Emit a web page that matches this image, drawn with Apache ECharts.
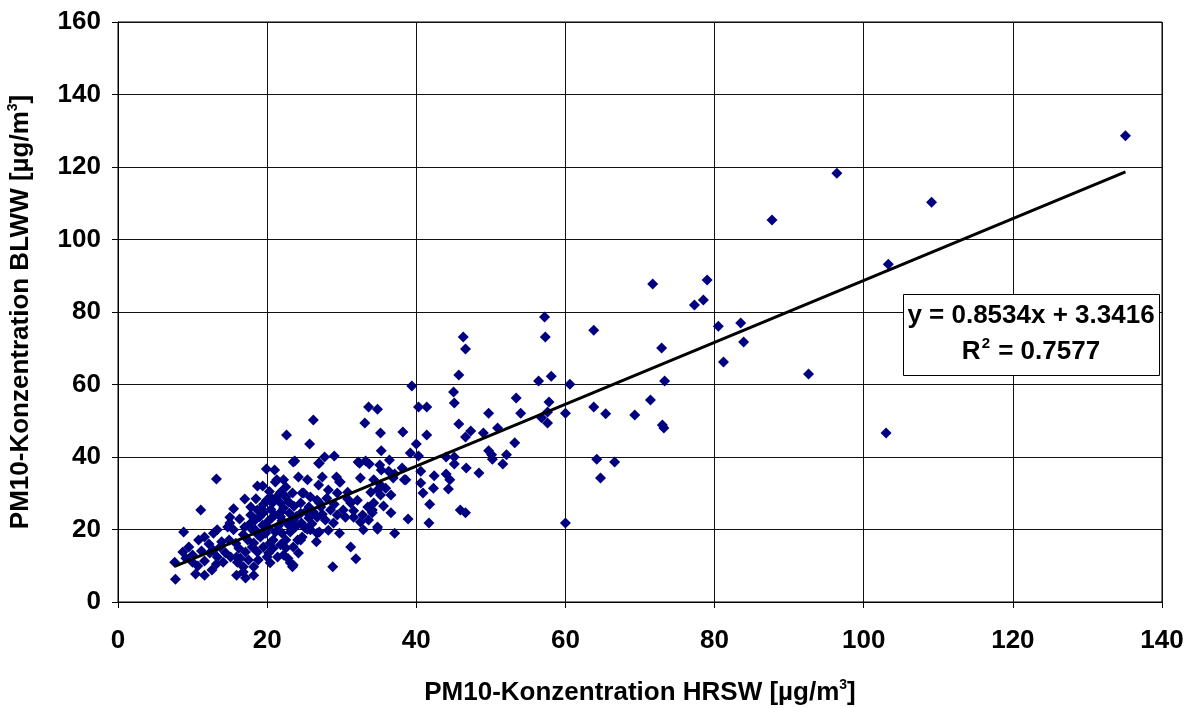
<!DOCTYPE html>
<html lang="de">
    <head>
        <meta charset="UTF-8" />
        <title>PM10 HRSW / BLWW</title>
        <script src="https://cdn.jsdelivr.net/npm/echarts@6/dist/echarts.min.js"></script>
        <style>
            html, body { margin: 0; padding: 0; background: #fff; }
            #chart { width: 1195px; height: 708px; }
        </style>
    </head>

    <body>
        <div id="chart"></div>

        <script>
            // Werte: [HRSW, BLWW] in µg/m3
            var highPoints = [
                [135.1, 128.6], [96.4, 118.3], [109.1, 110.3], [87.7, 105.4], [103.3, 93.2],
                [71.7, 87.7], [79.0, 88.8], [77.3, 81.9], [78.5, 83.3], [80.5, 76.1],
                [83.5, 77.0], [83.9, 71.7], [81.2, 66.2], [92.6, 62.9], [103.0, 46.6],
                [57.2, 78.6], [57.3, 73.1], [46.3, 73.1], [46.6, 69.8], [63.8, 75.0],
                [72.9, 70.1], [73.3, 61.0], [56.4, 61.0], [58.1, 62.3], [60.6, 60.1],
                [53.4, 56.3], [57.8, 55.2], [54.0, 52.1], [57.6, 52.4], [56.8, 50.8],
                [57.6, 49.4], [60.0, 52.1], [63.8, 53.8], [65.4, 51.9], [69.3, 51.6],
                [71.4, 55.7], [73.0, 48.8], [73.2, 48.0], [53.2, 43.9], [52.1, 40.6],
                [51.6, 38.1], [64.2, 39.4], [66.6, 38.6], [64.7, 34.2], [60.0, 21.8]
            ];

            var midPoints = [
                [45.7, 62.6], [39.4, 59.6], [45.0, 57.9], [45.1, 54.9], [40.3, 53.8],
                [41.4, 53.8], [33.6, 53.8], [34.8, 53.2], [26.2, 50.2], [33.1, 49.4],
                [49.7, 52.1], [45.7, 49.1], [35.2, 46.6], [38.2, 46.9], [41.4, 46.1],
                [25.7, 43.6], [40.0, 43.6], [47.3, 47.2], [46.6, 45.5], [49.0, 46.6],
                [50.9, 48.0], [49.7, 41.7], [50.1, 40.6], [50.2, 39.4], [35.3, 41.7],
                [39.2, 41.1], [40.3, 40.3], [44.0, 40.0], [45.1, 40.0], [45.1, 38.1],
                [46.7, 37.0], [48.4, 35.6], [27.7, 40.0], [29.0, 40.3], [27.0, 38.3],
                [32.4, 38.3], [33.2, 38.9], [33.7, 38.1], [35.1, 37.8], [36.4, 39.2],
                [35.3, 36.4], [36.3, 36.1], [37.1, 35.3], [38.1, 37.0], [38.4, 33.7],
                [40.6, 36.1], [42.4, 34.8], [44.0, 35.3], [44.5, 33.7], [44.3, 31.2],
                [42.3, 31.4], [40.6, 32.8], [40.9, 30.1], [41.8, 27.0], [41.7, 21.8],
                [38.9, 22.9], [45.9, 25.4], [46.6, 24.6], [37.1, 19.0], [34.8, 20.1],
                [32.9, 19.9], [31.2, 15.2], [31.9, 11.9], [28.8, 9.7], [29.7, 19.0],
                [26.6, 16.6], [27.0, 19.3], [25.4, 20.1], [24.5, 17.1], [32.5, 34.2],
                [34.3, 33.7], [35.2, 32.3], [36.9, 34.2], [38.6, 33.7], [29.8, 33.1],
                [32.2, 38.6], [35.6, 26.5], [36.6, 24.6], [33.9, 30.3], [34.8, 30.9],
                [35.9, 31.4], [36.6, 29.5], [35.2, 29.5], [34.1, 25.4]
            ];

            var lowPoints = [
                [13.2, 33.9], [11.1, 25.4], [8.8, 19.3], [7.6, 11.0], [7.7, 6.3],
                [8.7, 13.8], [9.5, 15.2], [10.0, 13.0], [9.1, 12.1], [10.8, 17.1],
                [11.6, 17.9], [11.2, 14.1], [12.3, 13.5], [11.6, 11.3], [10.7, 9.9],
                [10.4, 7.7], [11.6, 7.4], [12.6, 8.8], [13.2, 10.5], [13.3, 12.4],
                [14.1, 11.0], [12.8, 19.0], [13.3, 19.9], [13.9, 16.6], [14.9, 17.1],
                [13.7, 15.2], [12.8, 14.3], [15.1, 12.4], [15.9, 12.4], [15.0, 23.4],
                [15.5, 25.7], [16.3, 22.9], [17.0, 28.4], [17.8, 26.2], [18.7, 32.0],
                [15.9, 7.4], [16.8, 9.7], [17.1, 6.6], [18.2, 7.4], [16.0, 11.0],
                [22.6, 46.1], [19.9, 36.7], [21.0, 36.4], [23.7, 38.9], [19.4, 32.0],
                [21.3, 33.7], [22.2, 33.7], [24.2, 34.5], [24.7, 30.1], [23.5, 38.6],
                [26.9, 38.3], [25.4, 33.7], [27.4, 34.5], [29.3, 34.5], [29.7, 33.1],
                [26.9, 32.3], [21.1, 33.1], [22.5, 31.7], [21.8, 30.3], [23.4, 30.1],
                [24.9, 30.1], [25.8, 29.0], [26.7, 28.1], [28.2, 30.9], [29.4, 30.1],
                [30.8, 30.3], [20.4, 29.0], [20.7, 27.3], [21.8, 27.3], [22.9, 27.6],
                [22.2, 25.9], [24.5, 27.3], [25.6, 26.2], [27.2, 26.2], [28.5, 25.4],
                [29.4, 24.0], [30.2, 25.4], [31.2, 27.3], [32.1, 28.1], [33.5, 26.2],
                [34.3, 27.3], [34.1, 24.6], [25.6, 23.2], [26.7, 23.4], [27.8, 22.6],
                [28.9, 21.8], [30.5, 23.4], [31.6, 23.4], [32.5, 22.1], [33.6, 22.6],
                [34.8, 20.7], [18.7, 25.4], [19.5, 24.6], [18.4, 22.6], [19.4, 21.2],
                [18.0, 19.9], [18.8, 18.5], [20.2, 20.4], [21.1, 19.3], [20.8, 17.1],
                [22.0, 19.0], [22.5, 17.1], [23.1, 19.3], [23.8, 20.7], [25.1, 20.4],
                [26.7, 19.0], [18.2, 16.3], [18.7, 13.8], [19.5, 15.2], [20.4, 16.3],
                [20.2, 13.5], [21.4, 12.4], [22.2, 13.0], [23.5, 15.2], [23.1, 10.8],
                [17.0, 20.7], [17.8, 21.8], [18.4, 19.9], [19.1, 17.9], [17.4, 17.1],
                [18.0, 15.2], [17.1, 13.8], [16.4, 12.1], [17.5, 11.6], [18.8, 11.6],
                [18.2, 9.7], [16.8, 8.3], [15.0, 21.8], [15.5, 19.9], [14.7, 20.7],
                [19.0, 23.5], [20.0, 22.0], [21.0, 24.0], [22.0, 22.5], [23.0, 24.5],
                [19.5, 27.0], [20.5, 25.5], [21.5, 21.0], [23.5, 22.5], [24.5, 24.5],
                [18.5, 28.5], [22.5, 29.0], [19.8, 19.0], [21.8, 23.5], [20.3, 30.5],
                [20.0, 12.4], [20.4, 10.8], [22.5, 14.9], [23.4, 9.7], [24.1, 17.1],
                [24.7, 17.9], [25.8, 19.9], [24.2, 13.5], [23.5, 10.2]
            ];

            // dichter Kern um 20/20, schwer einzeln lesbar, geschätzt
            var corePoints = [
                [19.2, 25.8], [20.6, 23.2], [21.9, 25.0], [22.8, 21.4], [23.9, 23.6],
                [19.9, 28.0], [21.2, 28.8], [23.6, 26.4], [24.6, 21.8], [25.2, 25.0],
                [26.2, 24.8], [27.0, 27.4], [28.0, 28.6], [17.8, 24.0], [16.8, 18.6],
                [15.8, 16.2], [16.2, 14.8], [14.4, 13.6], [12.2, 16.0], [10.0, 11.0],
                [20.8, 14.8], [21.8, 15.8], [22.8, 12.0], [26.0, 21.6], [27.4, 24.2],
                [29.0, 27.0], [30.8, 28.4], [31.6, 25.2], [32.8, 24.0], [28.2, 19.8]
            ];

            // Trendlinie (Excel)
            var slope = 0.8534;
            var intercept = 3.3416;
            var rSquared = 0.7577;

            var xTicks = [0, 140, 20];
            var yTicks = [0, 160, 20];

            var allPoints = lowPoints.concat(corePoints, midPoints, highPoints);
            var xs = allPoints.map(function (p) { return p[0]; });
            var xMin = Math.min.apply(null, xs);
            var xMax = Math.max.apply(null, xs);
            var trendData = [
                [xMin, slope * xMin + intercept],
                [xMax, slope * xMax + intercept]
            ];

            var fontFamily = 'Liberation Sans, Arial, sans-serif';
            var titleRich = {
                sup: { fontSize: 14, fontWeight: 'bold', fontFamily: fontFamily, verticalAlign: 'top', padding: [0, 0, 16, 0] }
            };

            var chart = echarts.init(document.getElementById('chart'));

            var option = {
                animation: false,
                backgroundColor: '#fff',
                grid: {
                    left: 118,
                    right: 33,
                    top: 22,
                    bottom: 106,
                    outerBoundsMode: 'none',
                    show: true,
                    borderColor: '#000',
                    borderWidth: 1
                },
                xAxis: {
                    type: 'value',
                    min: xTicks[0],
                    max: xTicks[1],
                    interval: xTicks[2],
                    name: 'PM10-Konzentration HRSW [µg/m{sup|3}]',
                    nameLocation: 'middle',
                    nameGap: 76,
                    nameTextStyle: { fontSize: 26, fontWeight: 'bold', color: '#000', fontFamily: fontFamily, rich: titleRich },
                    axisLine: { lineStyle: { color: '#000', width: 1 } },
                    axisTick: { show: true, length: 6, lineStyle: { color: '#000' } },
                    axisLabel: { fontSize: 26, fontWeight: 'bold', color: '#000', fontFamily: fontFamily, margin: 26 },
                    splitLine: { show: true, lineStyle: { color: '#111', width: 1 } }
                },
                yAxis: {
                    type: 'value',
                    min: yTicks[0],
                    max: yTicks[1],
                    interval: yTicks[2],
                    name: 'PM10-Konzentration BLWW [µg/m{sup|3}]',
                    nameLocation: 'middle',
                    nameGap: 82,
                    nameTextStyle: { fontSize: 26, fontWeight: 'bold', color: '#000', fontFamily: fontFamily, rich: titleRich },
                    axisLine: { show: true, lineStyle: { color: '#000', width: 1 } },
                    axisTick: { show: true, length: 6, lineStyle: { color: '#000' } },
                    axisLabel: { fontSize: 26, fontWeight: 'bold', color: '#000', fontFamily: fontFamily, margin: 17 },
                    splitLine: { show: true, lineStyle: { color: '#111', width: 1 } }
                },
                series: [
                    {
                        name: 'Messwerte',
                        type: 'scatter',
                        symbol: 'diamond',
                        symbolSize: 11,
                        itemStyle: { color: '#000080', opacity: 1 },
                        data: allPoints,
                        z: 2
                    },
                    {
                        name: 'Trend',
                        type: 'line',
                        data: trendData,
                        symbol: 'none',
                        lineStyle: { color: '#000', width: 3 },
                        silent: true,
                        z: 3
                    }
                ],
                graphic: [
                    {
                        type: 'rect',
                        left: 903,
                        top: 294,
                        shape: { width: 256, height: 81 },
                        style: { fill: '#fff', stroke: '#000', lineWidth: 1 },
                        z: 10
                    },
                    {
                        type: 'text',
                        style: {
                            x: 1031,
                            y: 316,
                            text: 'y = ' + slope + 'x + ' + intercept,
                            fontSize: 26,
                            fontWeight: 'bold',
                            fontFamily: fontFamily,
                            fill: '#000',
                            align: 'center',
                            verticalAlign: 'middle'
                        },
                        z: 11
                    },
                    {
                        type: 'text',
                        style: {
                            x: 1031,
                            y: 352,
                            text: '{b|R}{s|2}{b| = ' + rSquared + '}',
                            rich: {
                                b: { fontSize: 26, fontWeight: 'bold', fontFamily: fontFamily, fill: '#000' },
                                s: { fontSize: 15, fontWeight: 'bold', fontFamily: fontFamily, fill: '#000', verticalAlign: 'top', padding: [0, 1, 16, 1] }
                            },
                            align: 'center',
                            verticalAlign: 'middle'
                        },
                        z: 11
                    }
                ]
            };
            chart.setOption(option);
        </script>
    </body>
</html>
